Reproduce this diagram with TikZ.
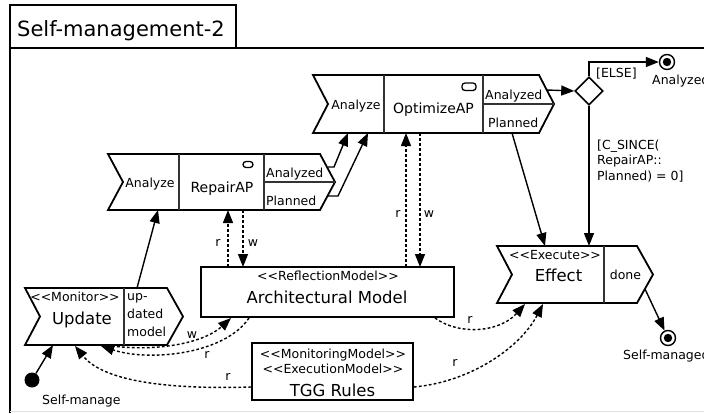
\documentclass[tikz,border=0pt]{standalone}
\usepackage{fontspec}
\setmainfont{DejaVu Sans}
\usetikzlibrary{arrows.meta,shapes.geometric}
\begin{document}
\begin{tikzpicture}[x=1pt,y=-1pt,
  outline/.style={line width=1.8pt, line join=miter},
  divider/.style={line width=1.1pt, draw=black!80},
  flow/.style={line width=1.4pt, -{Triangle[length=13pt,width=10pt]}},
  access/.style={line width=1.4pt, dash pattern=on 2.8pt off 2.2pt, -{Triangle[length=13pt,width=10pt]}},
  txt/.style={inner sep=0pt, anchor=base},
  txtl/.style={inner sep=0pt, anchor=base west},
  small/.style={font=\fontsize{12.5}{15}\selectfont},
  medium/.style={font=\fontsize{14}{17}\selectfont},
  large/.style={font=\fontsize{16.5}{20}\selectfont},
  finalnode/.style={circle, draw, line width=1.4pt, minimum size=15pt, inner sep=0pt},
  modelbox/.style={draw, line width=1.8pt, inner sep=0pt},
  pill/.style={line width=1.3pt, rounded corners=3pt},
]
\useasboundingbox (0,0) rectangle (704,413);

% ---- frame and title tab ----
\draw[line width=1.8pt] (10,413) -- (10,48) -- (704,48);
\draw[line width=1.8pt] (10,5) rectangle (236,48);
\node[txt, font=\fontsize{21}{24}\selectfont] (title) at (121,36) {Self-management-2};
\draw[black!12, line width=1pt] (10,411.5) -- (704,411.5);

% ---- OptimizeAP ----
\draw[outline] (313,75) -- (539,75) -- (554,104) -- (539,133) -- (313,133) -- (328,104) -- cycle;
\draw[divider] (384,75) -- (384,133) (483,75) -- (483,133) (483,104) -- (554,104);
\draw[pill] (462,83) rectangle (476,90.5);
\node[txt, small] (opt-in) at (356,109) {Analyze};
\node[txt, medium] (opt) at (433.5,113) {OptimizeAP};
\node[txtl, small] (opt-analyzed) at (485,99) {Analyzed};
\node[txtl, small] (opt-planned) at (488,127) {Planned};
\coordinate (opt-an) at (547,90);
\coordinate (opt-l1) at (348,133);
\coordinate (opt-l2) at (368,133);
\coordinate (opt-b1) at (406,133);
\coordinate (opt-b2) at (420,133);
\coordinate (opt-b3) at (512,133);

% ---- RepairAP ----
\draw[outline] (108,154) -- (320,154) -- (335,182) -- (320,210) -- (108,210) -- (123,182) -- cycle;
\draw[divider] (179,154) -- (179,210) (264,154) -- (264,210) (264,182) -- (335,182);
\draw[pill] (243,161.5) rectangle (253,167.5);
\node[txt, small] (rep-in) at (150,187.5) {Analyze};
\node[txt, medium] (rep) at (222,192) {RepairAP};
\node[txtl, small] (rep-analyzed) at (266,177) {Analyzed};
\node[txtl, small] (rep-planned) at (266,205) {Planned};
\coordinate (rep-an) at (328,167);
\coordinate (rep-pl) at (328,196);
\coordinate (rep-b1) at (158,210);
\coordinate (rep-b2) at (228,210);
\coordinate (rep-b3) at (243,210);

% ---- Update (Monitor) ----
\draw[outline] (25,288) -- (167,288) -- (183,316.5) -- (167,345) -- (25,345) -- (40,316.5) -- cycle;
\draw[divider] (124,288) -- (124,345);
\node[txt, small] (upd-st) at (75,301) {<{}<Monitor>{}>};
\node[txt, large] (upd) at (82,324) {Update};
\node[txtl, small] (upd-o1) at (127,300) {up-};
\node[txtl, small] (upd-o2) at (127,318) {dated};
\node[txtl, small] (upd-o3) at (127,336) {model};
\coordinate (upd-t) at (137,288);
\coordinate (upd-b1) at (53,345);
\coordinate (upd-b2) at (75,346);
\coordinate (upd-b3) at (101,346);
\coordinate (upd-b4) at (112,346);

% ---- Effect (Execute) ----
\draw[outline] (497,246) -- (637,246) -- (653,274.5) -- (637,303) -- (497,303) -- (512,274.5) -- cycle;
\draw[divider] (604,246) -- (604,303);
\node[txt, small] (eff-st) at (555,259) {<{}<Execute>{}>};
\node[txt, large] (eff) at (558.5,281) {Effect};
\node[txt, small] (eff-done) at (625.5,279) {done};
\coordinate (eff-t1) at (545,246);
\coordinate (eff-t2) at (589,246);
\coordinate (eff-b1) at (525,304);
\coordinate (eff-b2) at (543,304);
\coordinate (eff-out) at (645,289);

% ---- models ----
\node[modelbox, minimum width=253pt, minimum height=50pt] (arch) at (327.5,292) {};
\node[txt, small] (arch-st) at (328,280) {<{}<ReflectionModel>{}>};
\node[txt, large] (arch-name) at (327,303) {Architectural Model};
\coordinate (arch-t1) at (228,267);
\coordinate (arch-t2) at (243,267);
\coordinate (arch-t3) at (406,267);
\coordinate (arch-t4) at (420,267);
\coordinate (arch-b1) at (231,318);
\coordinate (arch-b2) at (249,318);
\coordinate (arch-b3) at (435,318);

\node[modelbox, minimum width=161pt, minimum height=57pt] (tgg) at (332.5,371.5) {};
\node[txt, small] (tgg-st1) at (333,358) {<{}<MonitoringModel>{}>};
\node[txt, small] (tgg-st2) at (333,373) {<{}<ExecutionModel>{}>};
\node[txt, large] (tgg-name) at (332.5,396) {TGG Rules};

% ---- control nodes ----
\node[circle, fill, minimum size=15pt, inner sep=0pt] (init) at (32,380) {};
\node[txtl, small] (init-l) at (42,404) {Self-manage};
\node[diamond, draw, line width=1.6pt, minimum width=28pt, minimum height=28pt, inner sep=0pt] (dec) at (589,91) {};
\node[finalnode] (fin1) at (667,62) {};
\fill (fin1) circle (4.2);
\node[txtl, small] (fin1-l) at (652,84) {Analyzed};
\node[finalnode] (fin2) at (668,338) {};
\fill (fin2) circle (4.2);
\node[txtl, small] (fin2-l) at (623,359) {Self-managed};

% ---- control flow ----
\draw[flow] (init) -- (upd-b1);
\draw[flow] (upd-t) -- (rep-b1);
\draw[flow] (rep-an) -- (334,167) -- (opt-l1);
\draw[flow] (rep-pl) -- (338,196) -- (opt-l2);
\draw[flow] (opt-an) -- (dec.west);
\draw[flow] (dec.north) |- (fin1.west);
\node[txtl, small] (else) at (596,77) {[ELSE]};
\draw[flow] (dec.south) -- (eff-t2);
\node[txtl, small] (guard1) at (597,149) {[C\_SINCE(};
\node[txtl, small] (guard2) at (597,164.5) {RepairAP::};
\node[txtl, small] (guard3) at (597,180) {Planned) = 0]};
\draw[flow] (opt-b3) -- (eff-t1);
\draw[flow] (eff-out) -- (fin2);

% ---- model access ----
\draw[access] (arch-t1) -- (rep-b2);
\draw[access] (rep-b3) -- (arch-t2);
\node[txt, small] (rw1) at (218,246) {r};
\node[txt, small] (rw2) at (253,246) {w};
\draw[access] (arch-t3) -- (opt-b1);
\draw[access] (opt-b2) -- (arch-t4);
\node[txt, small] (rw3) at (398,217) {r};
\node[txt, small] (rw4) at (429,217) {w};

\draw[access] (upd-b4) .. controls (160,352) and (205,342) .. (arch-b1);
\node[txt, small] (rw5) at (192,338) {w};
\draw[access] (arch-b2) .. controls (225,354) and (150,362) .. (upd-b3);
\node[txt, small] (rw6) at (207,358) {r};
\draw[access] (tgg.west |- 0,387) .. controls (150,390) and (100,377) .. (upd-b2);
\node[txt, small] (rw7) at (228,380) {r};
\draw[access] (arch-b3) .. controls (460,336) and (500,332) .. (eff-b1);
\node[txt, small] (rw8) at (470,323) {r};
\draw[access] (tgg.east |- 0,387) .. controls (470,382) and (520,348) .. (eff-b2);
\node[txt, small] (rw9) at (455,366) {r};
\end{tikzpicture}
\end{document}
